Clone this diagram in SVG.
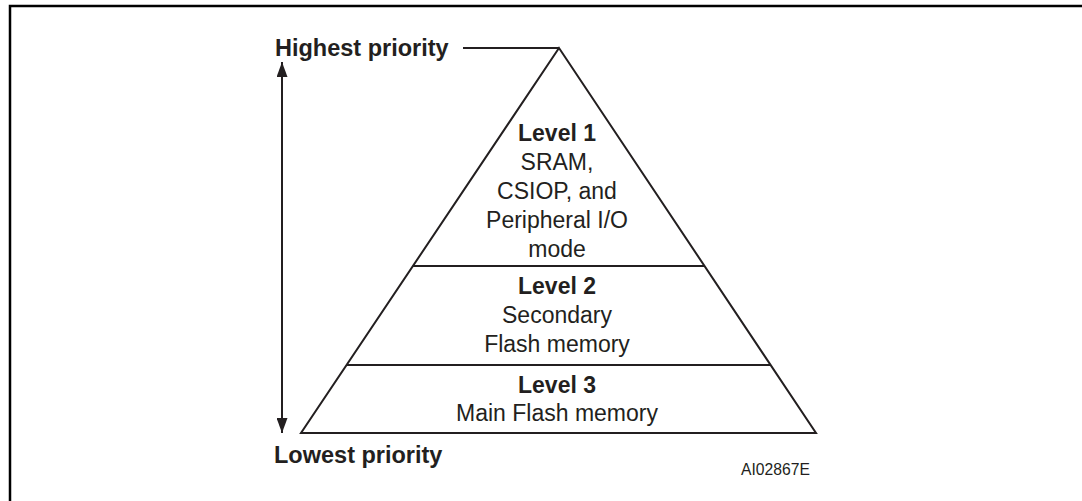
<svg xmlns="http://www.w3.org/2000/svg" width="1082" height="501" viewBox="0 0 1082 501">
<defs>
<style>
.t{font-family:"Liberation Sans",Arial,sans-serif;font-size:23px;fill:#231f20;text-anchor:middle}
.b{font-weight:bold}
.ln{stroke:#231f20;stroke-width:2;fill:none}
</style>
<marker id="ah" viewBox="0 0 10 10" refX="10" refY="5" markerWidth="15" markerHeight="11" preserveAspectRatio="none" markerUnits="userSpaceOnUse" orient="auto">
<path d="M0,0 L10,5 L0,10 z" fill="#231f20"/>
</marker>
</defs>
<rect width="1082" height="501" fill="#fff"/>
<g id="frame">
<path d="M10,501 V6 H1082" stroke="#000" stroke-width="2.5" fill="none"/>
</g>
<g id="pyramid">
<path class="ln" d="M559,48 L816,433 L301,433 Z"/>
<line class="ln" x1="413" y1="266" x2="705" y2="266"/>
<line class="ln" x1="347" y1="365" x2="771" y2="365"/>
</g>
<g id="level1">
<text class="t b" x="557" y="141">Level 1</text>
<text class="t" x="557" y="170">SRAM,</text>
<text class="t" x="557" y="199">CSIOP, and</text>
<text class="t" x="557" y="228">Peripheral I/O</text>
<text class="t" x="557" y="257">mode</text>
</g>
<g id="level2">
<text class="t b" x="557" y="294">Level 2</text>
<text class="t" x="557" y="323">Secondary</text>
<text class="t" x="557" y="352">Flash memory</text>
</g>
<g id="level3">
<text class="t b" x="557" y="393">Level 3</text>
<text class="t" x="557" y="421">Main Flash memory</text>
</g>
<g id="labels">
<text class="t b" x="275" y="56" style="text-anchor:start;font-size:23.5px">Highest priority</text>
<text class="t b" x="274" y="463" style="text-anchor:start;font-size:23.5px">Lowest priority</text>
<text class="t" x="741" y="475" style="text-anchor:start;font-size:15.7px">AI02867E</text>
</g>
<g id="connectors">
<line class="ln" x1="463" y1="48" x2="559" y2="48"/>
<line class="ln" x1="282" y1="247" x2="282" y2="62" marker-end="url(#ah)"/>
<line class="ln" x1="282" y1="247" x2="282" y2="433" marker-end="url(#ah)"/>
</g>
</svg>
